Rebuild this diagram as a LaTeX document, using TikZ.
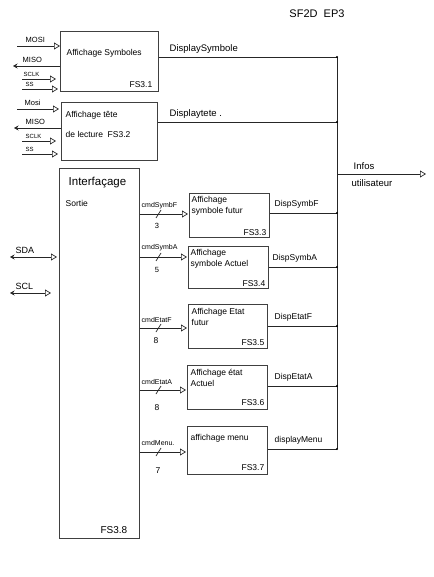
\documentclass[tikz,border=0pt]{standalone}
\usepackage{fontspec}
\setmainfont{Liberation Sans}
\usetikzlibrary{arrows.meta}
\begin{document}
\begin{tikzpicture}[x=1pt,y=-1pt,
  box/.style={draw=black!75, line width=0.9pt, inner sep=0pt, anchor=north west},
  wire/.style={draw=black!85, line width=0.7pt},
  arr/.style={wire, -{Triangle[open, length=6pt, width=7pt]}},
  larr/.style={wire, {Stealth[length=4.5pt, width=5pt]}-},
  biarr/.style={wire, {Stealth[length=4.5pt, width=5pt]}-{Triangle[open, length=6pt, width=7pt]}},
  lbl/.style={font=\fontsize{8.5}{9}\selectfont, inner sep=0.5pt},
  txt/.style={font=\fontsize{8.5}{10.5}\selectfont, inner sep=0.5pt, align=left},
  dot/.style={circle, fill=black, inner sep=0pt, minimum size=2.2pt}]
\useasboundingbox (0,0) rectangle (433,577);
\fill[white] (0,0) rectangle (433,577);

% title
\node[font=\fontsize{11}{12}\selectfont] (title) at (317,14) {SF2D\ \ EP3};

% boxes
\node[box, minimum width=98pt, minimum height=60pt] (b1) at (60,31) {};
\node[box, minimum width=96pt, minimum height=58pt] (b2) at (61,102) {};
\node[box, minimum width=80pt, minimum height=370pt] (bi) at (59,168) {};
\node[box, minimum width=80pt, minimum height=44pt] (b3) at (189,193) {};
\node[box, minimum width=80pt, minimum height=42pt] (b4) at (188,246) {};
\node[box, minimum width=79pt, minimum height=44pt] (b5) at (188,304) {};
\node[box, minimum width=80pt, minimum height=44pt] (b6) at (187,365) {};
\node[box, minimum width=80pt, minimum height=48pt] (b7) at (187,426) {};

% box texts
\node[txt, anchor=west] (t1) at (66,53) {Affichage Symboles};
\node[txt, anchor=south east] (f1) at (153,88) {FS3.1};
\node[txt, anchor=west] (t2) at (65,115) {Affichage tête};
\node[txt, anchor=west] (t2b) at (65,134) {de lecture\ \ FS3.2};
\node[font=\fontsize{11.5}{13}\selectfont, inner sep=0.5pt, anchor=west] (ti) at (68,183) {Interfaçage};
\node[txt, anchor=west] (tib) at (65,203) {Sortie};
\node[font=\fontsize{10}{11}\selectfont, inner sep=0.5pt, anchor=south east] (fi) at (128,534) {FS3.8};
\node[txt, anchor=north west, align=left] (t3) at (191,196) {Affichage\\symbole futur};
\node[txt, anchor=south east] (f3) at (267,236) {FS3.3};
\node[txt, anchor=north west, align=left] (t4) at (190,249) {Affichage\\symbole Actuel};
\node[txt, anchor=south east] (f4) at (266,287) {FS3.4};
\node[txt, anchor=north west, align=left] (t5) at (191,308) {Affichage Etat\\futur};
\node[txt, anchor=south east] (f5) at (265,346) {FS3.5};
\node[txt, anchor=north west, align=left] (t6) at (190,369) {Affichage état\\Actuel};
\node[txt, anchor=south east] (f6) at (265,406) {FS3.6};
\node[txt, anchor=north west] (t7) at (190,434) {affichage menu};
\node[txt, anchor=south east] (f7) at (265,471) {FS3.7};

% bus
\coordinate (bt) at (337,57);
\coordinate (bb) at (337,449);
\draw[wire] (bt) -- (bb);
\coordinate (o1) at (337,57);
\coordinate (o2) at (337,122);
\coordinate (o3) at (337,213);
\coordinate (o4) at (337,267);
\coordinate (o5) at (337,326);
\coordinate (o6) at (337,386);
\coordinate (o7) at (337,449);
\draw[wire] (b1.east |- o1) -- (o1) node[dot] (d1) {};
\draw[wire] (b2.east |- o2) -- (o2) node[dot] (d2) {};
\draw[wire] (b3.east |- o3) -- (o3) node[dot] (d3) {};
\draw[wire] (b4.east |- o4) -- (o4) node[dot] (d4) {};
\draw[wire] (b5.east |- o5) -- (o5) node[dot] (d5) {};
\draw[wire] (b6.east |- o6) -- (o6) node[dot] (d6) {};
\draw[wire] (b7.east |- o7) -- (o7) node[dot] (d7) {};
\node[lbl, anchor=south west, font=\fontsize{9.5}{10}\selectfont] (l1) at (169,54) {DisplaySymbole};
\node[lbl, anchor=south west, font=\fontsize{9.5}{10}\selectfont] (l2) at (169,119) {Displaytete .};
\node[lbl, anchor=south west] (l3) at (274,209) {DispSymbF};
\node[lbl, anchor=south west] (l4) at (272,263) {DispSymbA};
\node[lbl, anchor=south west] (l5) at (274,322) {DispEtatF};
\node[lbl, anchor=south west] (l6) at (274,382) {DispEtatA};
\node[lbl, anchor=south west] (l7) at (274,445) {displayMenu};

% infos utilisateur
\coordinate (io) at (337,174);
\coordinate (ie) at (426,174);
\draw[arr] (io) -- (ie);
\node[lbl, anchor=south west, font=\fontsize{9.5}{10}\selectfont] (li1) at (353,170) {Infos};
\node[lbl, anchor=north west, font=\fontsize{9.5}{10}\selectfont] (li2) at (351,179) {utilisateur};

% SPI inputs box 1
\coordinate (m1a) at (17,46);   \coordinate (m1b) at (60,46);
\coordinate (s1a) at (13,66);   \coordinate (s1b) at (60,66);
\coordinate (k1a) at (22,79);   \coordinate (k1b) at (56,79);
\coordinate (e1a) at (22,89);   \coordinate (e1b) at (58,89);
\draw[arr] (m1a) -- (m1b);
\draw[larr] (s1a) -- (s1b);
\draw[arr] (k1a) -- (k1b);
\draw[arr] (e1a) -- (e1b);
\node[lbl, anchor=south west, font=\fontsize{7.5}{8}\selectfont] (n1) at (25,43) {MOSI};
\node[lbl, anchor=south west, font=\fontsize{7.5}{8}\selectfont] (n2) at (22,63) {MISO};
\node[lbl, anchor=south west, font=\fontsize{6}{6}\selectfont] (n3) at (23,77) {SCLK};
\node[lbl, anchor=south west, font=\fontsize{6}{6}\selectfont] (n4) at (25,87) {SS};

% SPI inputs box 2
\coordinate (m2a) at (17,109);  \coordinate (m2b) at (59,109);
\coordinate (s2a) at (14,128);  \coordinate (s2b) at (61,128);
\coordinate (k2a) at (22,141);  \coordinate (k2b) at (56,141);
\coordinate (e2a) at (22,154);  \coordinate (e2b) at (58,154);
\draw[arr] (m2a) -- (m2b);
\draw[larr] (s2a) -- (s2b);
\draw[arr] (k2a) -- (k2b);
\draw[arr] (e2a) -- (e2b);
\node[lbl, anchor=south west, font=\fontsize{7.5}{8}\selectfont] (n5) at (24,106) {Mosi};
\node[lbl, anchor=south west, font=\fontsize{7.5}{8}\selectfont] (n6) at (25,125) {MISO};
\node[lbl, anchor=south west, font=\fontsize{6}{6}\selectfont] (n7) at (25,139) {SCLK};
\node[lbl, anchor=south west, font=\fontsize{6}{6}\selectfont] (n8) at (25,152) {SS};

% I2C
\coordinate (da) at (10,257); \coordinate (db) at (57,257);
\coordinate (ca) at (10,293); \coordinate (cb) at (51,293);
\draw[biarr] (da) -- (db);
\draw[biarr] (ca) -- (cb);
\node[lbl, anchor=south west, font=\fontsize{9}{10}\selectfont] (n9) at (15,254) {SDA};
\node[lbl, anchor=south west, font=\fontsize{9}{10}\selectfont] (n10) at (15,290) {SCL};

% command buses
\coordinate (c3) at (188,214);
\coordinate (c4) at (187,257);
\coordinate (c5) at (187,328);
\coordinate (c6) at (186,390);
\coordinate (c7) at (186,452);
\draw[arr] (bi.east |- c3) -- (c3);
\draw[arr] (bi.east |- c4) -- (c4);
\draw[arr] (bi.east |- c5) -- (c5);
\draw[arr] (bi.east |- c6) -- (c6);
\draw[arr] (bi.east |- c7) -- (c7);
\foreach \y in {214,257,328,390,452} {
  \draw[wire] (156,\y+4) -- (161,\y-4);
}
\node[lbl, anchor=south west, font=\fontsize{7}{7}\selectfont] (k3) at (141,210) {cmdSymbF};
\node[lbl, font=\fontsize{7.5}{8}\selectfont] (w3) at (157,226) {3};
\node[lbl, anchor=south west, font=\fontsize{7}{7}\selectfont] (k4) at (141,252) {cmdSymbA};
\node[lbl, font=\fontsize{7.5}{8}\selectfont] (w4) at (157,270) {5};
\node[lbl, anchor=south west, font=\fontsize{7}{7}\selectfont] (k5) at (141,323) {cmdEtatF};
\node[lbl, font=\fontsize{8.5}{9}\selectfont] (w5) at (156,341) {8};
\node[lbl, anchor=south west, font=\fontsize{7}{7}\selectfont] (k6) at (141,385) {cmdEtatA};
\node[lbl, font=\fontsize{8.5}{9}\selectfont] (w6) at (157,408) {8};
\node[lbl, anchor=south west, font=\fontsize{7}{7}\selectfont] (k7) at (141,446) {cmdMenu.};
\node[lbl, font=\fontsize{8.5}{9}\selectfont] (w7) at (158,471) {7};
\end{tikzpicture}
\end{document}
